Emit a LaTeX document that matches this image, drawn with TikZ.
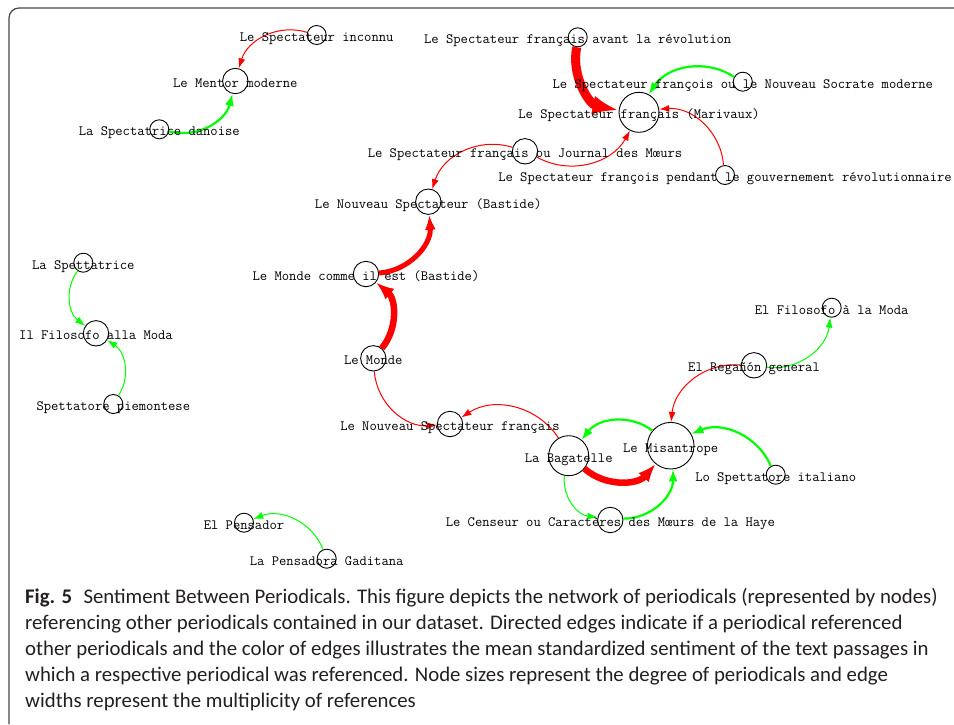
\documentclass[tikz,border=0pt]{standalone}
\usepackage{fontspec}
\newfontfamily\capfont{Carlito}
\usetikzlibrary{arrows.meta}
\definecolor{captext}{RGB}{35,31,32}

\begin{document}
\begin{tikzpicture}[x=1pt,y=-1pt,
            per/.style={circle,draw,inner sep=0pt,line width=.9pt},
            d1/.style={per,minimum size=19pt},
            d2/.style={per,minimum size=25.4pt},
            d4/.style={per,minimum size=40pt},
            d5/.style={per,minimum size=46.6pt},
            lbl/.style={font=\ttfamily\fontsize{14.2}{16}\selectfont,anchor=base,yshift=-6.5pt,inner sep=0pt},
            ref/.style={bend right=45},
            badref/.style={ref,draw=red},
            goodref/.style={ref,draw=green},
            w1/.style={line width=1pt,-{Latex[length=10pt,width=7pt]}},
            w2/.style={line width=2.2pt,-{Latex[length=12pt,width=9pt]}},
            w5/.style={line width=5pt,-{Latex[length=15pt,width=11pt]}},
            w6/.style={line width=6.5pt,-{Latex[length=18pt,width=14pt]}},
            w9/.style={line width=9pt,-{Latex[length=26pt,width=19pt]}},
            frame/.style={draw=black!72,line width=1.2pt,rounded corners=10pt},
            capt/.style={font=\capfont\fontsize{20.8}{26}\selectfont,text=captext,anchor=north west,inner sep=0pt,align=left}
          ]
          \useasboundingbox (0,0) rectangle (954,724);
          \draw[frame] (9,724) |- (954,8);

          %periodicals
          \node[d1] (inconnu) at (316.7,35) {};
          \node[d2] (mentor) at (235.3,81) {};
          \node[d1] (danoise) at (159.3,129.3) {};
          \node[d1] (avant) at (577.7,37.3) {};
          \node[d1] (socrate) at (742.8,81.7) {};
          \node[d4] (mariv) at (639,112.3) {};
          \node[d2] (jdm) at (525,151.3) {};
          \node[d1] (pendant) at (725,175) {};
          \node[d2] (bastide) at (428.3,201.7) {};
          \node[d1] (spettatrice) at (83.3,262.7) {};
          \node[d2] (filosofo) at (96,333.3) {};
          \node[d1] (piemontese) at (113.3,404) {};
          \node[d2] (mcie) at (366,274) {};
          \node[d2] (monde) at (373.3,358.3) {};
          \node[d2] (nsf) at (450,424) {};
          \node[d1] (pensador) at (244,522.7) {};
          \node[d1] (gaditana) at (326.7,558.7) {};
          \node[d1] (filmoda) at (831.7,307.7) {};
          \node[d2] (reganon) at (754,365.3) {};
          \node[d5] (misan) at (670.7,445.7) {};
          \node[d4] (bagatelle) at (568.7,455.7) {};
          \node[d1] (italiano) at (775.7,474.7) {};
          \node[d2] (censeur) at (610.3,520) {};

          %references
          \path
          (inconnu) edge[badref,w1] (mentor)
          (danoise) edge[goodref,w2] (mentor)
          (jdm) edge[badref,w1] (bastide)
          (jdm) edge[badref,w1] (mariv)
          (avant) edge[badref,w9] (mariv)
          (socrate) edge[goodref,w2] (mariv)
          (pendant) edge[badref,w1] (mariv)
          (mcie) edge[badref,w5] (bastide)
          (monde) edge[badref,w6] (mcie)
          (monde) edge[badref,w1] (nsf)
          (bagatelle) edge[badref,w1] (nsf)
          (reganon) edge[goodref,w1] (filmoda)
          (reganon) edge[badref,w1] (misan)
          (misan) edge[goodref,w2] (bagatelle)
          (bagatelle) edge[badref,w6] (misan)
          (italiano) edge[goodref,w2] (misan)
          (bagatelle) edge[goodref,w1] (censeur)
          (censeur) edge[goodref,w2] (misan)
          (spettatrice) edge[goodref,w1] (filosofo)
          (piemontese) edge[goodref,w1] (filosofo)
          (gaditana) edge[goodref,w1] (pensador)
          ;

          %labels
          \node[lbl] (inconnu-t) at (inconnu) {Le Spectateur inconnu};
          \node[lbl] (mentor-t) at (mentor) {Le Mentor moderne};
          \node[lbl] (danoise-t) at (danoise) {La Spectatrice danoise};
          \node[lbl] (avant-t) at (avant) {Le Spectateur français avant la révolution};
          \node[lbl] (socrate-t) at (socrate) {Le Spectateur françois ou le Nouveau Socrate moderne};
          \node[lbl] (mariv-t) at (mariv) {Le Spectateur français (Marivaux)};
          \node[lbl] (jdm-t) at (jdm) {Le Spectateur français ou Journal des Mœurs};
          \node[lbl] (pendant-t) at (pendant) {Le Spectateur françois pendant le gouvernement révolutionnaire};
          \node[lbl] (bastide-t) at (bastide) {Le Nouveau Spectateur (Bastide)};
          \node[lbl] (spettatrice-t) at (spettatrice) {La Spettatrice};
          \node[lbl] (filosofo-t) at (filosofo) {Il Filosofo alla Moda};
          \node[lbl] (piemontese-t) at (piemontese) {Spettatore piemontese};
          \node[lbl] (mcie-t) at (mcie) {Le Monde comme il est (Bastide)};
          \node[lbl] (monde-t) at (monde) {Le Monde};
          \node[lbl] (nsf-t) at (nsf) {Le Nouveau Spectateur français};
          \node[lbl] (pensador-t) at (pensador) {El Pensador};
          \node[lbl] (gaditana-t) at (gaditana) {La Pensadora Gaditana};
          \node[lbl] (filmoda-t) at (filmoda) {El Filosofo à la Moda};
          \node[lbl] (reganon-t) at (reganon) {El Regañón general};
          \node[lbl] (misan-t) at (misan) {Le Misantrope};
          \node[lbl] (bagatelle-t) at (bagatelle) {La Bagatelle};
          \node[lbl] (italiano-t) at (italiano) {Lo Spettatore italiano};
          \node[lbl] (censeur-t) at (censeur) {Le Censeur ou Caractères des Mœurs de la Haye};

          %caption
          \node[capt] (cap) at (25,588.5) {\textbf{Fig. 5}\hspace{.55em}Sentiment Between Periodicals. This figure depicts the network of periodicals (represented by nodes)\\
          referencing other periodicals contained in our dataset. Directed edges indicate if a periodical referenced\\
          other periodicals and the color of edges illustrates the mean standardized sentiment of the text passages in\\
          which a respective periodical was referenced. Node sizes represent the degree of periodicals and edge\\
          widths represent the multiplicity of references};
      \end{tikzpicture}
\end{document}
